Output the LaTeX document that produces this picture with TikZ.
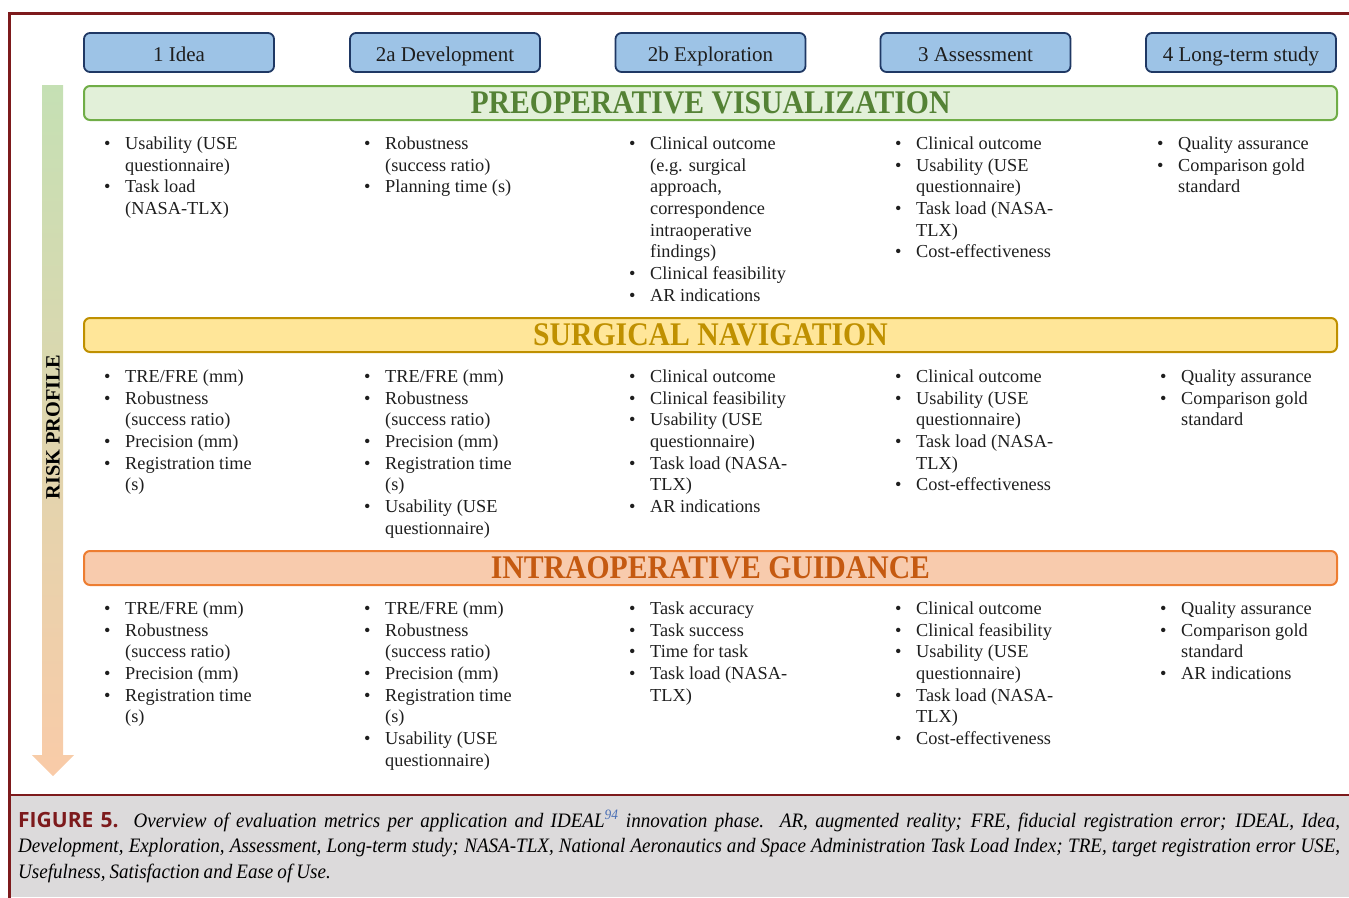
\documentclass[tikz,border=0pt]{standalone}
\usepackage{fontspec}
\setmainfont{Liberation Serif}
\newfontfamily\capsans{Open Sans}
\newfontfamily\capserif[FakeStretch=0.93, WordSpace=0.85]{Liberation Serif}
\newfontfamily\bandserif[FakeStretch=0.9]{Liberation Serif}
\definecolor{framered}{HTML}{7D1A1C}
\definecolor{capgrey}{HTML}{DCDADB}
\definecolor{hdrblue}{HTML}{9DC3E6}
\definecolor{hdrnavy}{HTML}{1F3864}
\definecolor{gfill}{HTML}{E2F0D9}
\definecolor{gline}{HTML}{70AD47}
\definecolor{gtext}{HTML}{548235}
\definecolor{yfill}{HTML}{FFE699}
\definecolor{yline}{HTML}{BF9000}
\definecolor{ytext}{HTML}{BF9000}
\definecolor{ofill}{HTML}{F8CBAD}
\definecolor{oline}{HTML}{ED7D31}
\definecolor{otext}{HTML}{C55A11}
\definecolor{txtgrey}{HTML}{1E1E1E}
\definecolor{supblue}{HTML}{4A6FB5}
\definecolor{arrgreen}{HTML}{C5E0B4}
\definecolor{arryellow}{HTML}{FFE89C}
\definecolor{arrorange}{HTML}{F9CBA8}
\newcommand\mybul{\makebox[21pt][l]{\textbullet}}
\newcommand\myind{\hspace*{21pt}}
\newcommand\sstrut{\rule{0pt}{15.2pt}}
\newcommand\cstrut{\rule{0pt}{17.85pt}}
\begin{document}
\begin{tikzpicture}[x=1pt,y=-1pt,
  hdr/.style={draw=hdrnavy, line width=1.8pt, fill=hdrblue, rounded corners=6pt,
    minimum width=190pt, minimum height=39pt, inner sep=0pt,
    font=\fontsize{21}{25}\selectfont, text=txtgrey, text height=18pt, text depth=0pt},
  band/.style={line width=2pt, rounded corners=6pt, minimum width=1253pt,
    minimum height=34pt, inner sep=0pt, font=\fontsize{33}{36}\bandserif\bfseries},
  cell/.style={anchor=north west, inner sep=0pt, align=left, text=txtgrey,
    font=\fontsize{18.3}{21.7}\selectfont},
]
\useasboundingbox (0,0) rectangle (1349,897);
% frame and caption area
\fill[capgrey] (9,795) rectangle (1349,897);
\draw[framered, line width=3pt] (9.5,900) -- (9.5,13.5) -- (1352,13.5);
\draw[framered, line width=2.5pt] (9.5,795) -- (1352,795);
% risk arrow
\shade[top color=arrgreen, middle color=arryellow, bottom color=arrorange]
  (42,85) -- (63,85) -- (63,755) -- (74,755) -- (53,776) -- (32,755) -- (42,755) -- cycle;
\node[rotate=90, font=\fontsize{20.3}{24}\selectfont\bfseries, text=black] (risk) at (53,427) {RISK PROFILE};
% headers
\node[hdr] (h1) at (179,52.5) {1 Idea};
\node[hdr] (h2) at (445,52.5) {2a Development};
\node[hdr] (h3) at (710.5,52.5) {2b Exploration};
\node[hdr] (h4) at (975.5,52.5) {3 Assessment};
\node[hdr] (h5) at (1241,52.5) {4 Long-term study};
% bands
\node[band, draw=gline, fill=gfill, text=gtext] (b1) at (710.5,103) {PREOPERATIVE VISUALIZATION};
\node[band, draw=yline, fill=yfill, text=ytext] (b2) at (710.5,335) {SURGICAL NAVIGATION};
\node[band, draw=oline, fill=ofill, text=otext] (b3) at (710.5,568) {INTRAOPERATIVE GUIDANCE};
% row 1
\node[cell] (c11) at (104,134) {\sstrut\mybul Usability (USE\\\myind questionnaire)\\\mybul Task load\\\myind (NASA-TLX)};
\node[cell] (c12) at (364,134) {\sstrut\mybul Robustness\\\myind (success ratio)\\\mybul Planning time (s)};
\node[cell] (c13) at (629,134) {\sstrut\mybul Clinical outcome\\\myind (e.g. surgical\\\myind approach,\\\myind correspondence\\\myind intraoperative\\\myind findings)\\\mybul Clinical feasibility\\\mybul AR indications};
\node[cell] (c14) at (895,134) {\sstrut\mybul Clinical outcome\\\mybul Usability (USE\\\myind questionnaire)\\\mybul Task load (NASA-\\\myind TLX)\\\mybul Cost-effectiveness};
\node[cell] (c15) at (1157,134) {\sstrut\mybul Quality assurance\\\mybul Comparison gold\\\myind standard};
% row 2
\node[cell] (c21) at (104,367) {\sstrut\mybul TRE/FRE (mm)\\\mybul Robustness\\\myind (success ratio)\\\mybul Precision (mm)\\\mybul Registration time\\\myind (s)};
\node[cell] (c22) at (364,367) {\sstrut\mybul TRE/FRE (mm)\\\mybul Robustness\\\myind (success ratio)\\\mybul Precision (mm)\\\mybul Registration time\\\myind (s)\\\mybul Usability (USE\\\myind questionnaire)};
\node[cell] (c23) at (629,367) {\sstrut\mybul Clinical outcome\\\mybul Clinical feasibility\\\mybul Usability (USE\\\myind questionnaire)\\\mybul Task load (NASA-\\\myind TLX)\\\mybul AR indications};
\node[cell] (c24) at (895,367) {\sstrut\mybul Clinical outcome\\\mybul Usability (USE\\\myind questionnaire)\\\mybul Task load (NASA-\\\myind TLX)\\\mybul Cost-effectiveness};
\node[cell] (c25) at (1160,367) {\sstrut\mybul Quality assurance\\\mybul Comparison gold\\\myind standard};
% row 3
\node[cell] (c31) at (104,599) {\sstrut\mybul TRE/FRE (mm)\\\mybul Robustness\\\myind (success ratio)\\\mybul Precision (mm)\\\mybul Registration time\\\myind (s)};
\node[cell] (c32) at (364,599) {\sstrut\mybul TRE/FRE (mm)\\\mybul Robustness\\\myind (success ratio)\\\mybul Precision (mm)\\\mybul Registration time\\\myind (s)\\\mybul Usability (USE\\\myind questionnaire)};
\node[cell] (c33) at (629,599) {\sstrut\mybul Task accuracy\\\mybul Task success\\\mybul Time for task\\\mybul Task load (NASA-\\\myind TLX)};
\node[cell] (c34) at (895,599) {\sstrut\mybul Clinical outcome\\\mybul Clinical feasibility\\\mybul Usability (USE\\\myind questionnaire)\\\mybul Task load (NASA-\\\myind TLX)\\\mybul Cost-effectiveness};
\node[cell] (c35) at (1160,599) {\sstrut\mybul Quality assurance\\\mybul Comparison gold\\\myind standard\\\mybul AR indications};
% caption
\node[anchor=north west, inner sep=0pt, text width=1322pt, align=justify,
  font=\fontsize{20.5}{25.5}\capserif\itshape, text=black] (cap) at (18,809)
  {\hyphenpenalty=10000\exhyphenpenalty=10000\cstrut{\fontsize{21}{25.5}\capsans\bfseries\upshape\color{framered}FIGURE\hspace{0.35em}5.}\ \ Overview of evaluation metrics per application and IDEAL\textsuperscript{\color{supblue}94} innovation phase. AR, augmented reality; FRE, fiducial registration error; IDEAL, Idea,\linebreak Development, Exploration, Assessment, Long-term study; NASA-TLX, National Aeronautics and Space Administration Task Load Index; TRE, target registration error USE,\linebreak Usefulness, Satisfaction and Ease of Use.};
\end{tikzpicture}
\end{document}
